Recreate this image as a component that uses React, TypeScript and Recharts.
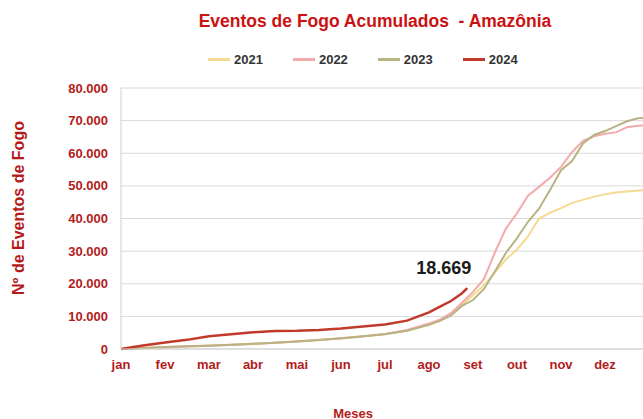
import { LineChart, Line, XAxis, YAxis, CartesianGrid, Legend, LabelList } from 'recharts'

// month position (0 = 1 jan, 1 = 1 fev ...)
const months = [0, 0.5, 1, 1.5, 2, 2.5, 3, 3.5, 4, 4.5, 5, 5.5, 6, 6.5, 7, 7.25, 7.5, 7.75, 7.87, 8, 8.25, 8.5, 8.75, 9, 9.25, 9.5, 9.75, 10, 10.25, 10.5, 10.75, 11, 11.25, 11.5, 11.75, 12]

const fires2021 = [0, 300, 600, 850, 1050, 1300, 1600, 1950, 2350, 2800, 3300, 3900, 4600, 5700, 7500, 8700, 10500, 13500, null, 16500, 19500, 23500, 27500, 30500, 34500, 40000, 41700, 43200, 44800, 45700, 46700, 47400, 48000, 48300, 48600, 48700]
const fires2022 = [0, 250, 550, 800, 1000, 1250, 1550, 1900, 2300, 2750, 3250, 3850, 4600, 5800, 7800, 9000, 11000, 14200, null, 17500, 21500, 29700, 37000, 41600, 47000, 49700, 52500, 55800, 60300, 63800, 65200, 66000, 66400, 68000, 68400, 68600]
const fires2023 = [0, 280, 580, 820, 1020, 1280, 1580, 1930, 2330, 2780, 3280, 3880, 4550, 5600, 7400, 8600, 10300, 13200, null, 15000, 18400, 23800, 29500, 34000, 39000, 43000, 48700, 54800, 57600, 63000, 65600, 66800, 68300, 69800, 70700, 71000]
const fires2024 = [0, 1100, 2000, 2800, 3900, 4500, 5100, 5500, 5600, 5850, 6260, 6900, 7500, 8700, 11200, 13000, 14700, 17100, 18669, null, null, null, null, null, null, null, null, null, null, null, null, null, null, null, null, null]

const monthLabels = ['jan', 'fev', 'mar', 'abr', 'mai', 'jun', 'jul', 'ago', 'set', 'out', 'nov', 'dez']
const monthTicks = [0, 1, 2, 3, 4, 5, 6, 7, 8, 9, 10, 11]
const yTicks = [0, 10000, 20000, 30000, 40000, 50000, 60000, 70000, 80000]

const FONT = '"Liberation Sans", Arial, sans-serif'
const RED_TEXT = '#b31b1b'

const data = months.map((m, i) => ({
  m,
  y2021: fires2021[i],
  y2022: fires2022[i],
  y2023: fires2023[i],
  y2024: fires2024[i],
}))

const fmt = (v: number) => v.toString().replace(/\B(?=(\d{3})+(?!\d))/g, '.')

function LegendContent({ payload }: any) {
  return (
    <div style={{ display: 'flex', fontFamily: FONT }}>
      {(payload || []).map((p: any) => (
        <div key={p.value} style={{ display: 'flex', alignItems: 'center', marginRight: 30 }}>
          <span style={{ display: 'inline-block', width: 22, height: 3, background: p.color }} />
          <span style={{ marginLeft: 4, fontSize: 13, fontWeight: 'bold', color: '#333', lineHeight: '15px' }}>
            {p.value}
          </span>
        </div>
      ))}
    </div>
  )
}

// only the last point of 2024 gets the value label
function LastLabel(props: any) {
  const { x, y, index, value } = props
  if (index !== fires2024.findIndex((v) => v === 18669)) return null
  return (
    <text x={x + 4} y={y - 19} textAnchor="end" dominantBaseline="middle" fontFamily={FONT} fontSize={18} fontWeight="bold" fill="#1a1a1a">
      {fmt(value)}
    </text>
  )
}

export default function App() {
  return (
    <div style={{ position: 'fixed', top: 0, left: 0, width: 643, height: 419, overflow: 'hidden', background: '#fff', fontFamily: FONT }}>
      <div style={{ position: 'absolute', top: 11, left: 0, width: 750, textAlign: 'center', fontSize: 17.5, lineHeight: '20px', fontWeight: 'bold', color: '#cc1111' }}>
        Eventos de Fogo Acumulados&nbsp; - Amazônia
      </div>
      <div style={{ position: 'absolute', left: 19, top: 208, transform: 'translate(-50%, -50%) rotate(-90deg)', whiteSpace: 'nowrap', fontSize: 16, fontWeight: 'bold', color: RED_TEXT }}>
        Nº de Eventos de Fogo
      </div>
      <div style={{ position: 'absolute', left: 353, top: 413, transform: 'translate(-50%, -50%)', fontSize: 13, fontWeight: 'bold', color: RED_TEXT }}>
        Meses
      </div>
      <LineChart width={660} height={419} data={data} margin={{ top: 88, right: 11, bottom: 40, left: 0 }}>
        <CartesianGrid vertical={false} stroke="#d9d9d9" />
        <XAxis
          type="number"
          dataKey="m"
          domain={[0, 12]}
          ticks={monthTicks}
          tickFormatter={(v: number) => monthLabels[v]}
          tickLine={false}
          tickMargin={5}
          axisLine={{ stroke: '#d0d0d0' }}
          tick={{ fill: RED_TEXT, fontSize: 13, fontWeight: 'bold', fontFamily: FONT }}
          height={30}
        />
        <YAxis
          domain={[0, 80000]}
          ticks={yTicks}
          tickFormatter={fmt}
          tickLine={false}
          tickMargin={7}
          axisLine={{ stroke: '#d0d0d0' }}
          tick={{ fill: RED_TEXT, fontSize: 13, fontWeight: 'bold', fontFamily: FONT }}
          width={121}
        />
        <Legend
          verticalAlign="middle"
          align="center"
          layout="horizontal"
          wrapperStyle={{ top: 52, left: 208 }}
          content={<LegendContent />}
        />
        <Line type="linear" dataKey="y2021" name="2021" stroke="#f5d98f" strokeWidth={2} dot={false} connectNulls isAnimationActive={false} />
        <Line type="linear" dataKey="y2022" name="2022" stroke="#f2aaaa" strokeWidth={2} dot={false} connectNulls isAnimationActive={false} />
        <Line type="linear" dataKey="y2023" name="2023" stroke="#b8b382" strokeWidth={2} dot={false} connectNulls isAnimationActive={false} />
        <Line type="linear" dataKey="y2024" name="2024" stroke="#c0392b" strokeWidth={2.5} dot={false} isAnimationActive={false}>
          <LabelList dataKey="y2024" content={<LastLabel />} />
        </Line>
      </LineChart>
    </div>
  )
}
